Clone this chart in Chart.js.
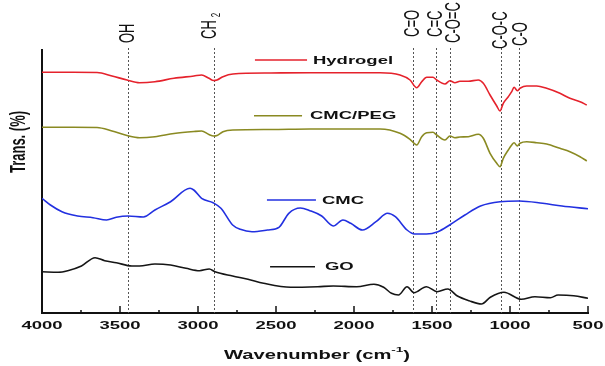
<!DOCTYPE html>
<html>
<head>
<meta charset="utf-8">
<script src="https://cdn.jsdelivr.net/npm/chart.js@4/dist/chart.umd.min.js"></script>
<style>
  body { margin: 0; background: #fff; }
  #wrap { width: 605px; height: 366px; }
</style>
</head>
<body>
<div id="wrap"><canvas id="ftir" width="605" height="366"></canvas></div>
<script>
// wavenumbers (cm-1), one grid for the two top traces
const wnTop = [4000, 3800, 3647, 3551, 3455, 3375, 3276, 3154, 3026, 2977, 2930, 2900, 2878, 2840, 2776, 2532, 2282, 1910, 1833, 1705,
  1641, 1598, 1566, 1534, 1494, 1470, 1417, 1385, 1353, 1321, 1267, 1203, 1171, 1128, 1085, 1064, 1043, 1011, 989, 974,
  953, 936, 893, 829, 765, 680, 616, 551, 508];
const hydrogel = [240.7, 240.7, 240.5, 237, 233, 230.3, 231.3, 234.7, 237, 238, 234.7, 232.5, 233, 236.3, 239, 240, 240.3, 240.3, 240.3, 238,
  233, 225.3, 231.3, 235.7, 235.7, 233, 229, 232.3, 230.3, 231.7, 231.7, 233, 229.7, 218, 207, 202, 209.7, 216.3, 221.3, 225.7,
  222.3, 224.7, 227, 227, 224.7, 219.7, 214.7, 211.3, 208];
const cmcPeg = [185.7, 185.7, 185.5, 182, 177.5, 175.3, 176.3, 179.5, 181.5, 182, 178.5, 177, 177.5, 181.3, 183, 183.5, 184, 184, 184, 179.7,
  173.7, 168, 176.3, 180.3, 180.7, 178, 173, 177, 175.3, 176, 176.3, 178.7, 174.7, 159.7, 149.7, 146.3, 154.7, 163, 168, 170.3,
  167, 169.7, 171.3, 170.3, 169, 164.7, 161.3, 156.3, 152];

const wnCmc = [4000, 3946, 3872, 3772, 3673, 3586, 3524, 3449, 3350, 3276, 3176, 3051, 3027, 2977, 2903, 2853, 2778, 2729, 2654, 2555,
  2481, 2418, 2344, 2282, 2207, 2133, 2071, 2021, 1946, 1859, 1785, 1735, 1660, 1611, 1536, 1462, 1387, 1289, 1189, 1064,
  940, 791, 667, 500];
const cmc = [114.7, 108, 101.3, 97, 95.3, 93, 95.7, 97, 96, 103, 111.3, 124.7, 123, 114.7, 110.3, 104.7, 88, 83.7, 81.3, 83,
  85.7, 99.7, 105, 102.3, 97, 87, 93, 89.7, 83, 91.3, 99.7, 96.3, 83, 79, 79, 81.3, 88, 98, 107, 111.3,
  112, 109.7, 107, 104.3];

const wnGo = [4000, 3897, 3835, 3747, 3660, 3598, 3524, 3424, 3375, 3276, 3176, 3077, 2990, 2928, 2891, 2778, 2680, 2580, 2406, 2232,
  2133, 1983, 1872, 1810, 1760, 1715, 1660, 1615, 1536, 1467, 1399, 1337, 1263, 1183, 1126, 1039, 928, 840, 741, 692,
  592, 500];
const go = [41.3, 40.7, 42.3, 47, 55.3, 52.3, 50.3, 47, 47, 49, 48, 44.7, 42.3, 44, 41.3, 37, 33.7, 29.7, 25.7, 26.3,
  27, 26.3, 28.7, 25.7, 19.7, 18, 26.3, 20.3, 26.3, 21.3, 24, 17, 12.3, 9, 15.7, 20.7, 13.7, 16.3, 15.3, 18,
  17.3, 14.7];

// band assignments (dashed lines)
const bandNames = ['OH', 'CH2', 'C=O', 'C=C', 'C-O=C', 'C-O-C', 'C-O'];
const bandWn = [3450, 2900, 1625, 1475, 1385, 1060, 940];
const xTickLabels = [4000, 3500, 3000, 2500, 2000, 1500, 1000, 500];

// the image is stretched sideways, so all text is drawn wider than tall
const SX = 1.68;
const INK = '#111';

// where the band labels and the in-plot series names sit
const bandLabelPos = [
  { bottom: 43, dx: 0 }, { bottom: 39, dx: -4 }, { bottom: 37, dx: 0 }, { bottom: 37, dx: 0 },
  { bottom: 43, dx: 4 }, { bottom: 49, dx: 0 }, { bottom: 46, dx: 2 }
];
const seriesTags = [
  { text: 'Hydrogel', color: '#e5222c', from: 2635, to: 2301, textAt: 2263, y: 253 },
  { text: 'CMC/PEG', color: '#8a8a22', from: 2641, to: 2333, textAt: 2282, y: 197.3 },
  { text: 'CMC', color: '#2230e0', from: 2558, to: 2244, textAt: 2205, y: 113 },
  { text: 'GO', color: '#151515', from: 2538, to: 2250, textAt: 2186, y: 46.3 }
];

function pts(xs, ys) {
  return xs.map((x, i) => ({ x: x, y: ys[i] }));
}

function series(label, xs, ys, color) {
  return {
    label: label,
    data: pts(xs, ys),
    borderColor: color,
    borderWidth: 1.6,
    pointRadius: 0,
    cubicInterpolationMode: 'monotone',
    fill: false
  };
}

// draw text squeezed vertically / wide horizontally
function wideText(ctx, text, x, y, font, align, rotate) {
  ctx.save();
  ctx.translate(x, y);
  ctx.scale(SX, 1);
  if (rotate) ctx.rotate(-Math.PI / 2);
  ctx.font = font;
  ctx.fillStyle = INK;
  ctx.textAlign = align;
  ctx.textBaseline = 'middle';
  ctx.fillText(text, 0, 0);
  ctx.restore();
}

const bandLines = {
  id: 'bandLines',
  beforeDatasetsDraw(chart) {
    const ctx = chart.ctx;
    const xs = chart.scales.x;
    const bottom = chart.chartArea.bottom;
    ctx.save();
    ctx.strokeStyle = '#555';
    ctx.lineWidth = 1;
    ctx.setLineDash([2, 2]);
    bandWn.forEach(w => {
      const px = Math.round(xs.getPixelForValue(w)) + 0.5;
      ctx.beginPath();
      ctx.moveTo(px, 48);
      ctx.lineTo(px, bottom);
      ctx.stroke();
    });
    ctx.restore();
  }
};

const decorations = {
  id: 'decorations',
  afterDraw(chart) {
    const ctx = chart.ctx;
    const xs = chart.scales.x;
    const ys = chart.scales.y;
    const area = chart.chartArea;

    // inward ticks on the x axis
    ctx.save();
    ctx.strokeStyle = INK;
    ctx.lineWidth = 1.5;
    for (let v = 500; v <= 4000; v += 250) {
      const px = xs.getPixelForValue(v);
      const len = v % 500 === 0 ? 7 : 3;
      ctx.beginPath();
      ctx.moveTo(px, area.bottom);
      ctx.lineTo(px, area.bottom - len);
      ctx.stroke();
    }
    ctx.restore();

    // tick labels
    xTickLabels.forEach(v => {
      wideText(ctx, String(v), xs.getPixelForValue(v), area.bottom + 13, 'bold 11px "Liberation Sans", Arial, sans-serif', 'center');
    });

    // axis titles
    const tFont = 'bold 12px "Liberation Sans", Arial, sans-serif';
    ctx.save();
    ctx.font = tFont;
    const mainW = ctx.measureText('Wavenumber (cm').width;
    ctx.font = 'bold 8px "Liberation Sans", Arial, sans-serif';
    const supW = ctx.measureText('-1').width;
    ctx.font = tFont;
    const closeW = ctx.measureText(')').width;
    ctx.restore();
    const totalW = (mainW + supW + closeW) * SX;
    const tx = (area.left + area.right) / 2 - totalW / 2 + 2;
    wideText(ctx, 'Wavenumber (cm', tx, 356, tFont, 'left');
    wideText(ctx, '-1', tx + mainW * SX, 350, 'bold 8px "Liberation Sans", Arial, sans-serif', 'left');
    wideText(ctx, ')', tx + (mainW + supW) * SX, 356, tFont, 'left');

    wideText(ctx, 'Trans. (%)', 19, 142, 'bold 13px "Liberation Sans", Arial, sans-serif', 'center', true);

    // band labels, rotated
    const bFont = '13px "Liberation Sans", Arial, sans-serif';
    bandNames.forEach((name, i) => {
      const px = xs.getPixelForValue(bandWn[i]) + bandLabelPos[i].dx;
      const by = bandLabelPos[i].bottom;
      if (name === 'CH2') {
        wideText(ctx, 'CH', px, by, bFont, 'left', true);
        ctx.save();
        ctx.font = bFont;
        const w = ctx.measureText('CH').width;
        ctx.restore();
        wideText(ctx, '2', px + 4 * SX, by - w - 3, '8px "Liberation Sans", Arial, sans-serif', 'left', true);
      } else {
        wideText(ctx, name, px, by, bFont, 'left', true);
      }
    });

    // series names inside the plot
    seriesTags.forEach(t => {
      const y = ys.getPixelForValue(t.y);
      ctx.save();
      ctx.strokeStyle = t.color;
      ctx.lineWidth = 1.6;
      ctx.beginPath();
      ctx.moveTo(xs.getPixelForValue(t.from), y);
      ctx.lineTo(xs.getPixelForValue(t.to), y);
      ctx.stroke();
      ctx.restore();
      wideText(ctx, t.text, xs.getPixelForValue(t.textAt), y + 0.5, 'bold 11px "Liberation Sans", Arial, sans-serif', 'left');
    });
  }
};

const axisStyle = {
  ticks: { display: false },
  grid: { display: true, drawOnChartArea: false, drawTicks: false },
  border: { display: true, color: INK, width: 2 },
  title: { display: false }
};

new Chart(document.getElementById('ftir'), {
  type: 'line',
  data: {
    datasets: [
      series('Hydrogel', wnTop, hydrogel, '#e5222c'),
      series('CMC/PEG', wnTop, cmcPeg, '#8a8a22'),
      series('CMC', wnCmc, cmc, '#2230e0'),
      series('GO', wnGo, go, '#151515')
    ]
  },
  options: {
    responsive: false,
    animation: false,
    layout: { padding: { left: 42, right: 17, top: 50, bottom: 53 } },
    scales: {
      x: Object.assign({ type: 'linear', reverse: true, min: 500, max: 4000 }, axisStyle),
      y: Object.assign({ type: 'linear', min: 0, max: 263 }, axisStyle)
    },
    plugins: {
      legend: { display: false },
      tooltip: { enabled: false }
    }
  },
  plugins: [bandLines, decorations]
});
</script>
</body>
</html>
